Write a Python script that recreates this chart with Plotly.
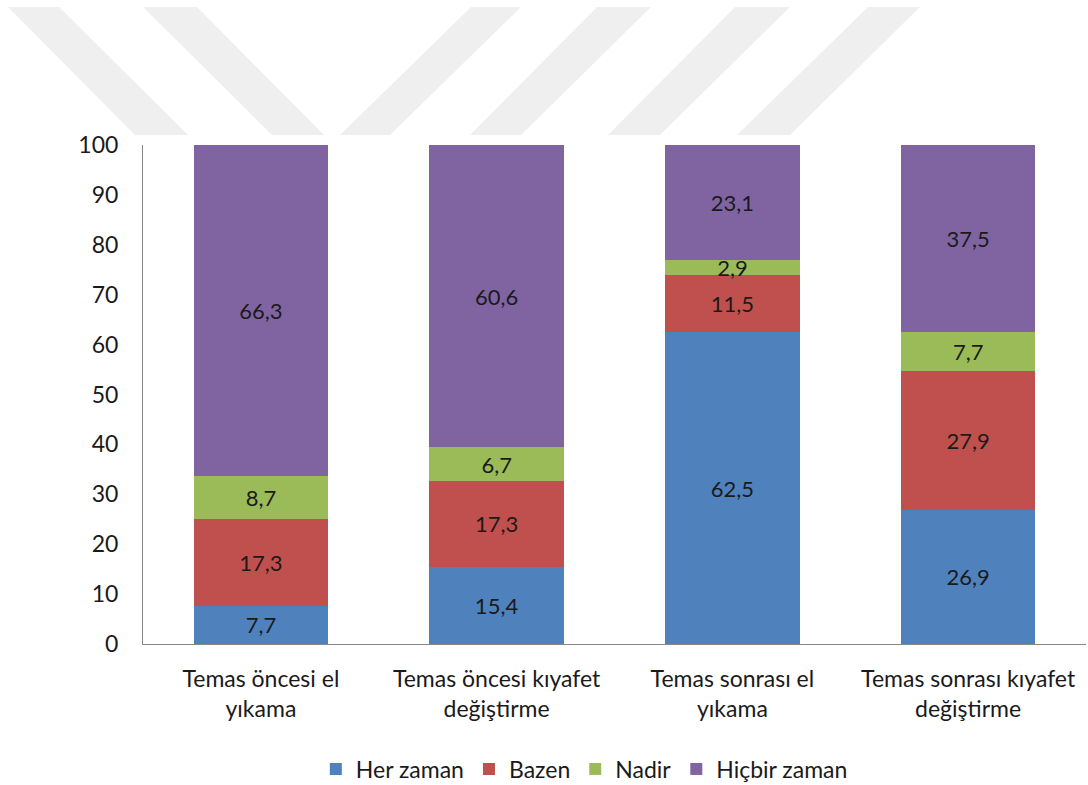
import plotly.graph_objects as go

categories = ["Temas öncesi el<br>yıkama", "Temas öncesi kıyafet<br>değiştirme",
              "Temas sonrası el<br>yıkama", "Temas sonrası kıyafet<br>değiştirme"]
her_zaman = [7.7, 15.4, 62.5, 26.9]
bazen = [17.3, 17.3, 11.5, 27.9]
nadir = [8.7, 6.7, 2.9, 7.7]
hicbir = [66.3, 60.6, 23.1, 37.5]
series_names = ["Her zaman", "Bazen", "Nadir", "Hiçbir zaman"]
colors = ["#4F81BD", "#C0504D", "#9BBB59", "#8064A2"]

W, H = 1088, 785
ML, MR, MT, MB = 143, 2, 145, 141
PW, PH = W - ML - MR, H - MT - MB

fig = go.Figure()
for name, vals, col in zip(series_names, [her_zaman, bazen, nadir, hicbir], colors):
    fig.add_trace(go.Bar(
        name=name, x=categories, y=vals, marker=dict(color=col, line=dict(width=0)),
        text=[f"{v:.1f}".replace(".", ",") for v in vals],
        textposition="inside", insidetextanchor="middle", constraintext="none",
        textangle=0, cliponaxis=False,
        textfont=dict(family="Lato", size=22, color="#1a1a1a"),
        hoverinfo="skip"))

# watermark stripes (decorative), pixel -> paper coords
def px(x):
    return (x - ML) / PW
def py(y):
    return (H - MB - y) / PH

stripes = [((8, 59), (135, 188)), ((143, 197), (272, 324)),
           ((471, 521), (340, 390)), ((597, 651), (470, 521)),
           ((735, 790), (608, 660)), ((868, 920), (737, 790))]
shapes = []
for (t0, t1), (b0, b1) in stripes:
    path = (f"M {px(t0)},{py(7)} L {px(t1)},{py(7)} L {px(b1)},{py(135)} "
            f"L {px(b0)},{py(135)} Z")
    shapes.append(dict(type="path", xref="paper", yref="paper", path=path,
                       fillcolor="#efefef", line=dict(width=0), layer="below"))

fig.update_layout(
    barmode="stack", bargap=0.43,
    width=W, height=H,
    margin=dict(l=ML, r=MR, t=MT, b=MB, pad=0),
    paper_bgcolor="white", plot_bgcolor="rgba(0,0,0,0)",
    font=dict(family="Lato", size=23, color="#1a1a1a"),
    shapes=shapes,
    legend=dict(orientation="h", xref="paper", x=0.468, xanchor="center",
                yref="container", y=16 / H, yanchor="middle",
                font=dict(family="Lato", size=23, color="#1a1a1a"),
                traceorder="normal", itemwidth=30),
    showlegend=True,
)
fig.update_xaxes(showline=True, linecolor="#868686", linewidth=1, showgrid=False,
                 ticks="", tickfont=dict(size=23), ticklabelstandoff=14)
fig.update_yaxes(range=[0, 100], dtick=10, showline=True, linecolor="#868686",
                 linewidth=1, showgrid=False, ticks="", zeroline=False,
                 tickfont=dict(size=23), ticklabelstandoff=19)

fig.write_html("out.html")
